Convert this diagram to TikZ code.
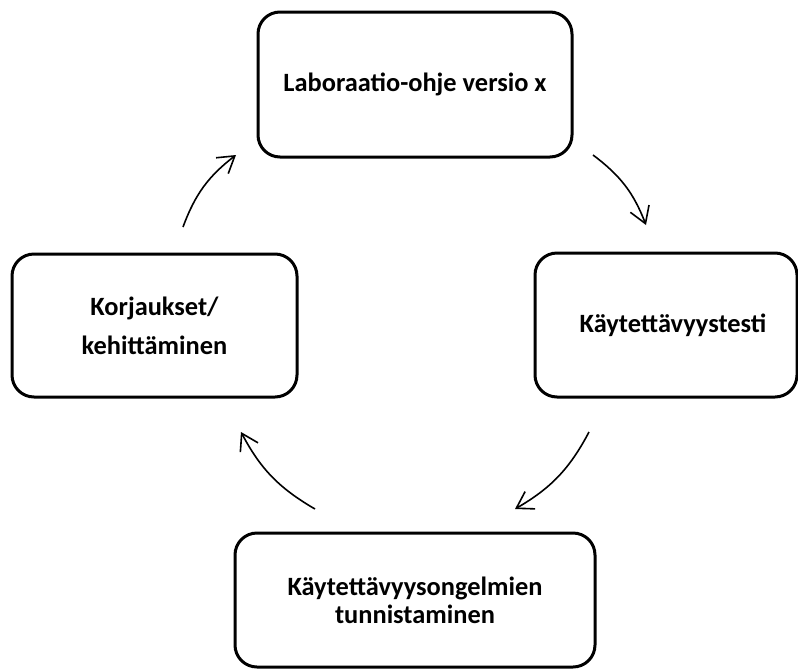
\documentclass[tikz,border=0pt]{standalone}
\usepackage{fontspec}
\setmainfont{Carlito}
\usetikzlibrary{arrows.meta}
\begin{document}
\begin{tikzpicture}[x=1pt,y=-1pt,
  stagebox/.style={draw=black, line width=3pt, rounded corners=22pt, fill=white,
    align=center, inner sep=0pt, font=\fontsize{26.4}{32}\selectfont\bfseries},
  cyclearrow/.style={-{Straight Barb[length=16pt,width=20pt]}, line width=1.6pt, bend left=16}]
\useasboundingbox (0,0) rectangle (798,670);
\clip (0,0) rectangle (798,670);
\node[stagebox, minimum width=314pt, minimum height=145pt] (top) at (415,84.5) {Laboraatio-ohje versio x};
\node[stagebox, minimum width=262pt, minimum height=144pt] (right) at (666,325) {\hspace*{14pt}Käytettävyystesti};
\node[stagebox, minimum width=285pt, minimum height=143pt, font=\fontsize{26.4}{39}\selectfont\bfseries] (left) at (154.5,325.5) {Korjaukset/\\kehittäminen};
\node[stagebox, minimum width=360pt, minimum height=134pt, font=\fontsize{26.4}{28}\selectfont\bfseries] (bottom) at (415,600) {Käytettävyysongelmien\\tunnistaminen};
\coordinate (a1s) at (593,155);
\coordinate (a1e) at (646,225);
\coordinate (a2s) at (589,432);
\coordinate (a2e) at (515,509);
\coordinate (a3s) at (315,509);
\coordinate (a3e) at (241,432);
\coordinate (a4s) at (183,227);
\coordinate (a4e) at (236,155);
\draw[cyclearrow] (a1s) to (a1e);
\draw[cyclearrow] (a2s) to (a2e);
\draw[cyclearrow] (a3s) to (a3e);
\draw[cyclearrow] (a4s) to (a4e);
\end{tikzpicture}
\end{document}
